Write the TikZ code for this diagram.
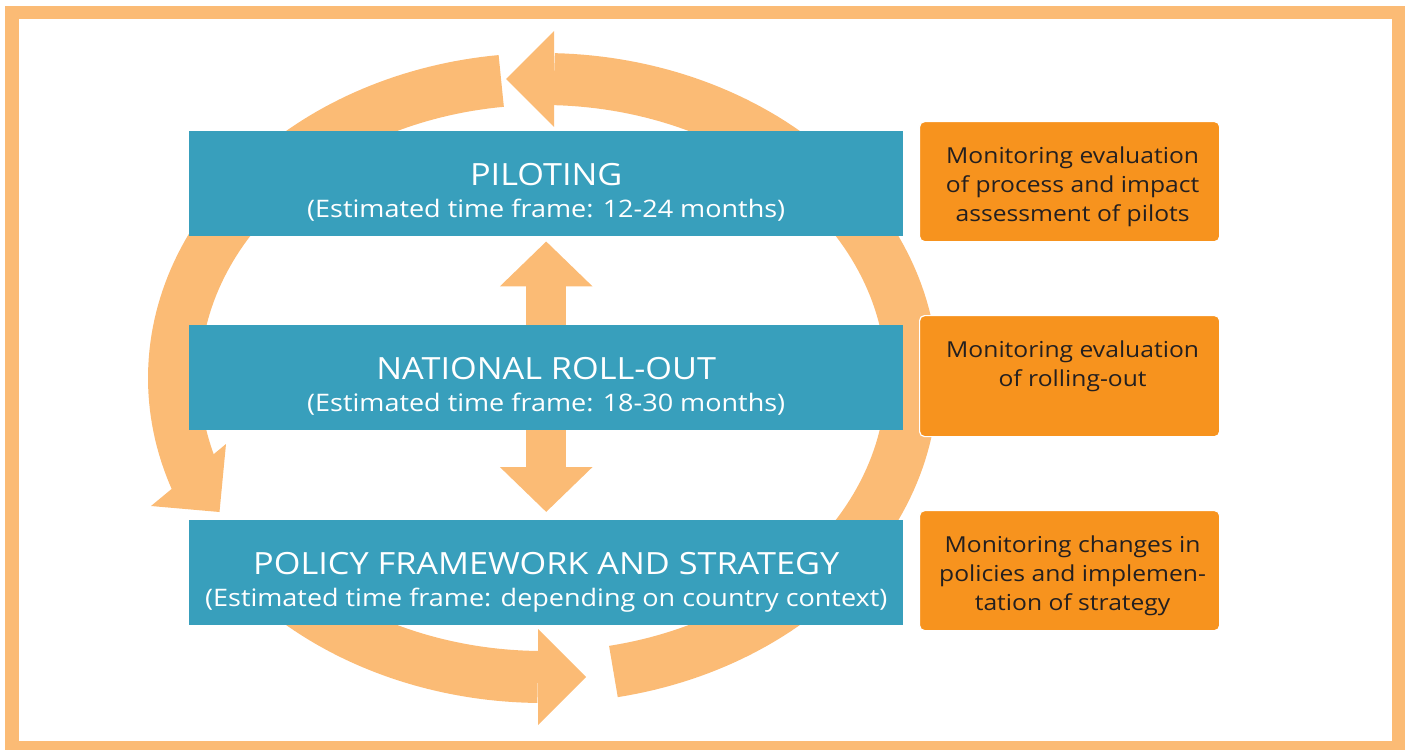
\documentclass[tikz,border=0pt]{standalone}
\usepackage{fontspec}
\setmainfont{Open Sans}
\newfontfamily\boxfont[FakeStretch=1.12]{Open Sans}
\usetikzlibrary{calc,arrows.meta}
\definecolor{ringcol}{HTML}{FBBB75}
\definecolor{stageblue}{HTML}{389FBC}
\definecolor{monorange}{HTML}{F7931E}
\definecolor{monotext}{HTML}{231F20}

\begin{document}
\begin{tikzpicture}[x=1pt,y=-1pt,
  stage/.style={fill=stageblue, minimum width=714pt, minimum height=105pt,
    inner sep=0pt, anchor=north west},
  monitor/.style={fill=monorange, draw=white, line width=1.2pt, rounded corners=5pt,
    minimum width=300pt, minimum height=120pt, inner sep=0pt, anchor=north west},
  ring/.style={ringcol, line width=52pt},
  ringhead/.style={fill=ringcol},
  link/.style={ringcol, line width=40pt, -{Triangle[width=90pt,length=45pt]}},
  title/.style={text=white, font=\boxfont\fontsize{30.6}{30.6}\selectfont, anchor=base, inner sep=0pt},
  sub/.style={text=white, font=\boxfont\fontsize{24.1}{24.1}\selectfont, anchor=base, inner sep=0pt},
  % multi-line notes are placed by the baseline of their last line
  note/.style={text=monotext, font=\boxfont\fontsize{22}{29}\selectfont, align=center,
    anchor=base, inner sep=0pt},
  ]
\useasboundingbox (0,0) rectangle (1407,749);

% outer frame
\draw[ringcol, line width=13.5pt] (12,12.7) rectangle (1398.5,748);

% cycle of three curved arrows around the stages
\draw[ring] plot[domain=-79:88.3, samples=120] ({543+369*cos(\x)},{378-299*sin(\x)});
\fill[ringhead] (554,31) -- (506,79) -- (554,127) -- cycle;
\draw[ring] plot[domain=96.5:200, samples=80] ({543+369*cos(\x)},{378-299*sin(\x)});
\fill[ringhead] (151,506) -- (219.5,512) -- (226,444) -- cycle;
\draw[ring] plot[domain=215:269.2, samples=60] ({543+369*cos(\x)},{378-299*sin(\x)});
\fill[ringhead] (538,629) -- (586,677) -- (538,725) -- cycle;

% stages
\node[stage] (pilot) at (189,131) {};
\node[stage] (roll) at (189,325) {};
\node[stage] (policy) at (189,520) {};

\node[title] (pilotT) at ($(pilot.north)+(0,54)$) {PILOTING};
\node[sub] (pilotS) at ($(pilot.north)+(0,86)$) {(Estimated time frame: 12-24 months)};
\node[title] (rollT) at ($(roll.north)+(0,54)$) {NATIONAL ROLL-OUT};
\node[sub] (rollS) at ($(roll.north)+(0,86)$) {(Estimated time frame: 18-30 months)};
\node[title] (policyT) at ($(policy.north)+(0,54)$) {POLICY FRAMEWORK AND STRATEGY};
\node[sub] (policyS) at ($(policy.north)+(0,86)$) {(Estimated time frame: depending on country context)};

% links between the stages
\draw[link] (roll.north) -- ($(pilot.south)+(0,5)$);
\draw[link] (roll.south) -- ($(policy.north)+(0,-8)$);

% monitoring boxes
\node[monitor] (mon1) at (919,121) {};
\node[monitor, minimum height=121pt] (mon2) at (919,315) {};
\node[monitor] (mon3) at (919,510) {};

\node[note] (mon1T) at ($(mon1.north)+(3,100.5)$) {Monitoring evaluation\\of process and impact\\assessment of pilots};
\node[note] (mon2T) at ($(mon2.north)+(3,71.5)$) {Monitoring evaluation\\of rolling-out};
\node[note] (mon3T) at ($(mon3.north)+(3,100.5)$) {Monitoring changes in\\policies and implemen-\\tation of strategy};
\end{tikzpicture}
\end{document}
